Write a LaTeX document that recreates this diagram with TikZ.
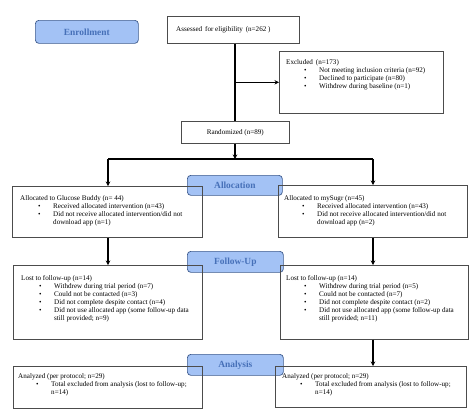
\documentclass[tikz,border=0pt]{standalone}
\usepackage{fontspec}
\setmainfont{Liberation Serif}
\usetikzlibrary{arrows.meta}
\definecolor{hdrfill}{HTML}{A3C2F5}
\definecolor{hdrdraw}{HTML}{3D5A8C}
\definecolor{hdrtext}{HTML}{4670B8}
\newcommand\bl[1]{\hspace*{18pt}\makebox[15pt][l]{\textbullet}#1}
\newcommand\cl[1]{\hspace*{33pt}#1}
\tikzset{
  box/.style={draw=black!70, line width=0.6pt, inner sep=0pt},
  txt/.style={inner sep=0pt, align=left, font=\fontsize{7.1}{8.1}\selectfont},
  hdr/.style={draw=hdrdraw, fill=hdrfill, line width=0.7pt, rounded corners=3.5pt,
    inner sep=0pt, text=hdrtext, font=\fontsize{9.4}{10}\selectfont\bfseries},
  conn/.style={line width=1.3pt, black},
  arr/.style={conn, -{Stealth[length=4.5pt,width=4.5pt]}}
}
\begin{document}
\begin{tikzpicture}[x=1pt,y=-1pt]
\useasboundingbox (0,0) rectangle (474,413);
% headers
\node[hdr, minimum width=103pt, minimum height=23pt, anchor=north west] (enr) at (35,20) {Enrollment};
\node[hdr, minimum width=95pt, minimum height=20pt, anchor=north west] (alloc) at (187,175) {Allocation};
\node[hdr, minimum width=96pt, minimum height=21pt, anchor=north west] (fup) at (187,251) {Follow-Up};
\node[hdr, minimum width=96pt, minimum height=21pt, anchor=north west] (ana) at (187,354) {Analysis};
% enrollment boxes
\node[box, minimum width=132pt, minimum height=27pt, anchor=north west] (ass) at (167,16) {};
\node[txt, anchor=west] (asst) at (176,29.5) {Assessed\, for eligibility\, (n=262 )};
\node[box, minimum width=164pt, minimum height=62pt, anchor=north west] (exc) at (279,51) {};
\node[txt, anchor=north west] (exct) at (286,59) {Excluded\, (n=173)\\
\bl{Not meeting inclusion criteria (n=92)}\\
\bl{Declined to participate (n=80)}\\
\bl{Withdrew during baseline (n=1)}};
\node[box, minimum width=108pt, minimum height=22pt, anchor=north west] (rnd) at (181,121) {};
\node[txt] (rndt) at (rnd.center) {Randomized (n=89)};
% allocation
\node[box, minimum width=190pt, minimum height=51pt, anchor=north west] (alL) at (12,186) {};
\node[txt, anchor=north west] (alLt) at (20,195) {Allocated to Glucose Buddy (n= 44)\\
\bl{Received allocated intervention (n=43)}\\
\bl{Did not receive allocated intervention/did not}\\
\cl{download app (n=1)}};
\node[box, minimum width=189pt, minimum height=52pt, anchor=north west] (alR) at (278,185) {};
\node[txt, anchor=north west] (alRt) at (284,195) {Allocated to mySugr (n=45)\\
\bl{Received allocated intervention (n=43)}\\
\bl{Did not receive allocated intervention/did not}\\
\cl{download app (n=2)}};
% follow-up
\node[box, minimum width=189pt, minimum height=74pt, anchor=north west] (fuL) at (13,265) {};
\node[txt, anchor=north west] (fuLt) at (21,275) {Lost to follow-up (n=14)\\
\bl{Withdrew during trial period (n=7)}\\
\bl{Could not be contacted (n=3)}\\
\bl{Did not complete despite contact (n=4)}\\
\bl{Did not use allocated app (some follow-up data}\\
\cl{still provided; n=9)}};
\node[box, minimum width=188pt, minimum height=74pt, anchor=north west] (fuR) at (280,265) {};
\node[txt, anchor=north west] (fuRt) at (286,275) {Lost to follow-up (n=14)\\
\bl{Withdrew during trial period (n=5)}\\
\bl{Could not be contacted (n=7)}\\
\bl{Did not complete despite contact (n=2)}\\
\bl{Did not use allocated app (some follow-up data}\\
\cl{still provided; n=11)}};
% analysis
\node[box, minimum width=189pt, minimum height=42pt, anchor=north west] (anL) at (13,366) {};
\node[txt, anchor=north west] (anLt) at (18,373) {Analyzed (per protocol; n=29)\\
\bl{Total excluded from analysis (lost to follow-up;}\\
\cl{n=14)}};
\node[box, minimum width=191pt, minimum height=41pt, anchor=north west] (anR) at (275,366) {};
\node[txt, anchor=north west] (anRt) at (282,373) {Analyzed (per protocol; n=29)\\
\bl{Total excluded from analysis (lost to follow-up;}\\
\cl{n=14)}};
% connectors
\coordinate (mx) at (235,0);
\draw[conn] (mx |- ass.south) -- (mx |- rnd.north);
\coordinate (exj) at (mx |- exc.west);
\draw[arr] (exj) -- (exc.west);
\coordinate (spl) at (235,159);
\draw[arr] (mx |- rnd.south) -- (spl);
\coordinate (splL) at (108,159);
\coordinate (splR) at (373,159);
\draw[conn] (splL) -- (splR);
\draw[arr] (splL) -- (splL |- alL.north);
\draw[arr] (splR) -- (splR |- alR.north);
\draw[arr] (splL |- alL.south) -- (splL |- fuL.north);
\draw[arr] (splR |- alR.south) -- (splR |- fuR.north);
\draw[arr] (splR |- fuR.south) -- (splR |- anR.north);
\end{tikzpicture}
\end{document}
